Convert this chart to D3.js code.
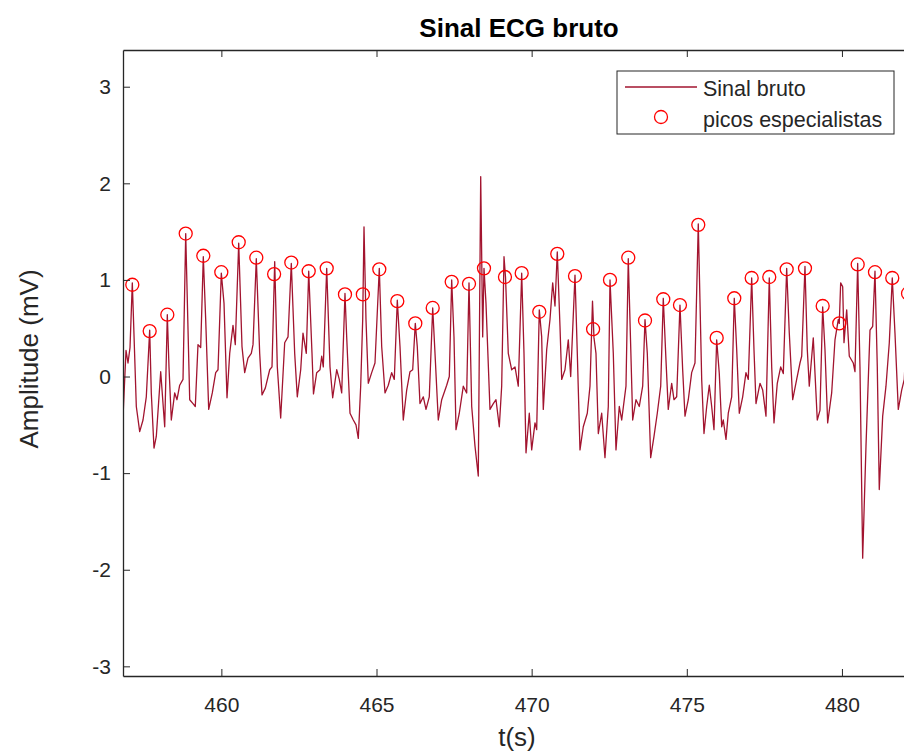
<!DOCTYPE html>
<html>
<head>
<meta charset="utf-8">
<script src="https://cdn.jsdelivr.net/npm/d3@7"></script>
<style>
  html, body { margin: 0; padding: 0; background: #fff; }
  svg { display: block; font-family: "Liberation Sans", Arial, Helvetica, sans-serif; }
</style>
</head>
<body>
<svg id="chart" width="904" height="754"></svg>
<script>
// ---- data ----
const title = "Sinal ECG bruto";
const xLabel = "t(s)";
const yLabel = "Amplitude (mV)";
const xDomain = [456.83, 482.29];
const yDomain = [-3.1, 3.38];
const xTicks = [460, 465, 470, 475, 480];
const yTicks = [-3, -2, -1, 0, 1, 2, 3];
const legendLabels = ["Sinal bruto", "picos especialistas"];

const signalT = [
  456.830, 456.927, 456.991, 457.056, 457.130, 457.259, 457.368, 457.475, 457.581, 457.690,
  457.742, 457.829, 457.903, 458.045, 458.174, 458.258, 458.312, 458.387, 458.496, 458.570,
  458.657, 458.764, 458.851, 458.980, 459.086, 459.160, 459.247, 459.334, 459.418, 459.495,
  459.592, 459.708, 459.817, 459.892, 459.998, 460.085, 460.182, 460.269, 460.375, 460.449,
  460.559, 460.665, 460.752, 460.858, 460.965, 461.020, 461.126, 461.235, 461.310, 461.416,
  461.558, 461.632, 461.719, 461.803, 461.912, 462.041, 462.148, 462.254, 462.363, 462.447,
  462.557, 462.631, 462.737, 462.815, 462.921, 462.969, 463.072, 463.179, 463.234, 463.285,
  463.395, 463.501, 463.588, 463.717, 463.801, 463.878, 463.984, 464.039, 464.146, 464.252,
  464.339, 464.413, 464.490, 464.555, 464.597, 464.661, 464.735, 464.845, 464.951, 465.090,
  465.167, 465.274, 465.380, 465.489, 465.573, 465.670, 465.757, 465.863, 465.973, 466.079,
  466.166, 466.250, 466.314, 466.401, 466.508, 466.595, 466.701, 466.811, 466.885, 466.991,
  467.101, 467.262, 467.346, 467.423, 467.497, 467.562, 467.668, 467.797, 467.906, 467.981,
  468.068, 468.174, 468.280, 468.358, 468.422, 468.464, 468.528, 468.657, 468.764, 468.851,
  468.957, 469.034, 469.109, 469.157, 469.247, 469.357, 469.463, 469.569, 469.679, 469.753,
  469.818, 469.924, 470.001, 470.108, 470.162, 470.246, 470.323, 470.375, 470.485, 470.591,
  470.678, 470.752, 470.826, 470.913, 470.968, 471.074, 471.181, 471.258, 471.397, 471.471,
  471.558, 471.664, 471.793, 471.880, 471.961, 472.009, 472.073, 472.148, 472.257, 472.363,
  472.470, 472.525, 472.631, 472.718, 472.824, 472.902, 473.040, 473.114, 473.192, 473.256,
  473.363, 473.469, 473.578, 473.653, 473.727, 473.836, 473.943, 474.049, 474.159, 474.242,
  474.329, 474.403, 474.513, 474.587, 474.674, 474.780, 474.867, 474.942, 475.048, 475.157,
  475.264, 475.370, 475.480, 475.554, 475.641, 475.725, 475.802, 475.876, 475.963, 476.047,
  476.124, 476.176, 476.263, 476.337, 476.447, 476.530, 476.608, 476.692, 476.801, 476.907,
  476.982, 477.091, 477.165, 477.230, 477.359, 477.446, 477.552, 477.658, 477.736, 477.810,
  477.916, 478.026, 478.110, 478.219, 478.303, 478.413, 478.541, 478.648, 478.703, 478.809,
  478.883, 478.947, 479.076, 479.205, 479.292, 479.379, 479.453, 479.540, 479.669, 479.776,
  479.882, 479.914, 479.959, 480.024, 480.066, 480.153, 480.237, 480.365, 480.420, 480.507,
  480.581, 480.668, 480.775, 480.904, 480.991, 481.065, 481.139, 481.203, 481.313, 481.419,
  481.526, 481.622, 481.709, 481.816, 481.925, 482.009, 482.130, 482.193, 482.289
];
const signalV = [
  -0.42, 0.27, 0.14, 0.30, 0.97, -0.31, -0.57, -0.45, -0.21, 0.48,
  -0.17, -0.74, -0.62, 0.05, -0.52, 0.64, 0.10, -0.45, -0.17, -0.24,
  -0.09, -0.03, 1.48, -0.24, -0.28, -0.31, 0.33, 0.30, 1.24, 0.59,
  -0.34, -0.17, 0.04, 0.07, 1.07, 0.76, -0.22, 0.24, 0.53, 0.33,
  1.38, 0.31, 0.04, 0.19, 0.24, 0.33, 1.22, 0.24, -0.19, -0.12,
  0.07, 0.10, 1.19, 0.10, -0.43, 0.35, 0.41, 1.17, 0.24, -0.21,
  0.07, 0.45, 0.24, 1.09, 0.24, -0.18, 0.04, 0.07, 0.21, 0.10,
  1.12, 0.10, -0.22, 0.07, -0.03, -0.17, 0.86, 0.41, -0.38, -0.45,
  -0.50, -0.64, -0.10, 0.59, 1.55, 0.59, -0.07, 0.04, 0.14, 1.12,
  0.31, -0.17, -0.09, 0.04, -0.03, 0.79, 0.31, -0.45, -0.14, 0.05,
  0.07, 0.55, 0.31, -0.28, -0.21, -0.34, -0.21, 0.71, 0.24, -0.45,
  -0.24, -0.09, 0.00, 1.00, 0.41, -0.55, -0.38, -0.10, -0.17, 0.97,
  -0.31, -0.72, -1.03, 2.07, 0.41, 1.12, 0.76, -0.34, -0.28, -0.24,
  -0.52, -0.10, 1.24, 1.03, 0.24, 0.07, 0.10, -0.10, 1.07, 0.24,
  -0.79, -0.38, -0.76, -0.48, -0.55, 0.69, 0.41, -0.34, 0.28, 0.59,
  0.97, 0.73, 1.29, 0.52, -0.03, 0.07, 0.38, 0.00, 1.05, 0.24,
  -0.76, -0.52, -0.38, -0.10, 0.78, 0.40, 0.24, -0.59, -0.38, -0.84,
  -0.31, 1.00, 0.24, -0.76, -0.31, -0.45, -0.10, 1.22, 0.31, -0.45,
  -0.24, -0.31, -0.10, 0.59, 0.24, -0.84, -0.62, -0.38, -0.10, 0.81,
  0.17, -0.34, -0.07, -0.24, -0.21, 0.74, 0.07, -0.41, -0.24, 0.04,
  0.14, 1.58, -0.03, -0.59, -0.31, -0.09, -0.31, -0.55, 0.38, 0.03,
  -0.52, -0.45, -0.65, -0.38, -0.21, 0.81, 0.28, -0.38, -0.21, 0.04,
  -0.03, 1.02, 0.28, -0.28, -0.07, -0.14, -0.41, 1.02, 0.10, -0.48,
  -0.07, 0.10, 0.03, 1.12, 0.45, -0.24, -0.03, 0.14, 0.21, 1.14,
  0.28, -0.10, 0.40, -0.45, -0.35, 0.72, 0.28, -0.48, -0.17, 0.38,
  0.59, 0.55, 0.97, 0.93, 0.35, 0.69, 0.21, 0.14, 0.05, 1.17,
  0.10, -1.88, -0.72, 0.48, 0.52, 1.09, 0.10, -1.17, -0.41, -0.10,
  0.35, 1.02, 0.45, -0.34, -0.14, -0.03, 0.86, 0.00, -0.30
];

const peakT = [
  457.130, 457.690, 458.258, 458.851, 459.418, 459.998, 460.559, 461.126, 461.700, 462.254,
  462.815, 463.395, 463.984, 464.560, 465.090, 465.670, 466.250, 466.811, 467.423, 467.981,
  468.464, 469.140, 469.679, 470.246, 470.826, 471.397, 471.980, 472.525, 473.114, 473.653,
  474.242, 474.780, 475.370, 475.963, 476.530, 477.091, 477.658, 478.219, 478.809, 479.379,
  479.914, 480.507, 481.065, 481.622, 482.130
];
const peakV = [
  0.95, 0.47, 0.64, 1.48, 1.25, 1.08, 1.39, 1.23, 1.06, 1.18,
  1.09, 1.12, 0.85, 0.85, 1.11, 0.78, 0.55, 0.71, 0.98, 0.96,
  1.12, 1.03, 1.07, 0.67, 1.27, 1.04, 0.49, 1.00, 1.23, 0.58,
  0.80, 0.74, 1.57, 0.40, 0.81, 1.02, 1.03, 1.11, 1.12, 0.73,
  0.55, 1.16, 1.08, 1.02, 0.86
];

// ---- layout ----
const W = 904, H = 754;
const m = { left: 123, top: 50, right: 913, bottom: 676 };
const axisColor = "#262626";
const lineColor = "#A2142F";
const peakColor = "#FF0000";
const fontFamily = '"Liberation Sans", Arial, Helvetica, sans-serif';

const svg = d3.select("#chart");
const x = d3.scaleLinear().domain(xDomain).range([m.left, m.right]);
const y = d3.scaleLinear().domain(yDomain).range([m.bottom, m.top]);

svg.append("rect").attr("width", W).attr("height", H).attr("fill", "#fff");

svg.append("defs").append("clipPath").attr("id", "clip")
  .append("rect").attr("x", m.left).attr("y", m.top)
  .attr("width", m.right - m.left).attr("height", m.bottom - m.top);

// signal line
const signal = signalT.map((t, i) => [t, signalV[i]]);
svg.append("path")
  .datum(signal)
  .attr("clip-path", "url(#clip)")
  .attr("fill", "none")
  .attr("stroke", lineColor)
  .attr("stroke-width", 1.3)
  .attr("stroke-linejoin", "round")
  .attr("d", d3.line().x(d => x(d[0])).y(d => y(d[1])));

// peaks
svg.append("g").selectAll("circle")
  .data(peakT.map((t, i) => [t, peakV[i]]))
  .join("circle")
  .attr("cx", d => x(d[0]))
  .attr("cy", d => y(d[1]))
  .attr("r", 6.5)
  .attr("fill", "none")
  .attr("stroke", peakColor)
  .attr("stroke-width", 1.3);

// axes (MATLAB style: inward ticks, box)
const tickLen = 7;
const fontTick = 21;
const fmt = d => String(d);

const xAxisB = d3.axisBottom(x).tickValues(xTicks).tickFormat(fmt).tickSizeInner(-tickLen).tickSizeOuter(0).tickPadding(21);
const gxB = svg.append("g").attr("transform", `translate(0,${m.bottom})`).call(xAxisB);
const xAxisT = d3.axisTop(x).tickValues(xTicks).tickSizeInner(-tickLen).tickSizeOuter(0).tickFormat("");
const gxT = svg.append("g").attr("transform", `translate(0,${m.top})`).call(xAxisT);
const yAxisL = d3.axisLeft(y).tickValues(yTicks).tickFormat(fmt).tickSizeInner(-tickLen).tickSizeOuter(0).tickPadding(12);
const gyL = svg.append("g").attr("transform", `translate(${m.left},0)`).call(yAxisL);
const yAxisR = d3.axisRight(y).tickValues(yTicks).tickSizeInner(-tickLen).tickSizeOuter(0).tickFormat("");
const gyR = svg.append("g").attr("transform", `translate(${m.right},0)`).call(yAxisR);

[gxB, gxT, gyL, gyR].forEach(g => {
  g.select(".domain").attr("stroke", axisColor).attr("stroke-width", 1.3);
  g.selectAll(".tick line").attr("stroke", axisColor).attr("stroke-width", 1);
  g.selectAll(".tick text").attr("fill", axisColor)
    .style("font-size", fontTick + "px")
    .style("font-family", fontFamily);
});

// titles
svg.append("text")
  .attr("x", 519).attr("y", 37)
  .attr("text-anchor", "middle")
  .attr("font-weight", "bold").attr("font-size", 26)
  .attr("fill", "#000")
  .text(title);

svg.append("text")
  .attr("x", 517).attr("y", 746)
  .attr("text-anchor", "middle")
  .attr("font-size", 26).attr("fill", axisColor)
  .text(xLabel);

svg.append("text")
  .attr("transform", `translate(38,359) rotate(-90)`)
  .attr("text-anchor", "middle")
  .attr("font-size", 26).attr("fill", axisColor)
  .text(yLabel);

// legend
const lg = svg.append("g").attr("transform", "translate(617,71)");
lg.append("rect").attr("width", 277).attr("height", 63)
  .attr("fill", "#fff").attr("stroke", axisColor).attr("stroke-width", 1);
lg.append("line").attr("x1", 8).attr("x2", 80).attr("y1", 16).attr("y2", 16)
  .attr("stroke", lineColor).attr("stroke-width", 1.3);
lg.append("circle").attr("cx", 44).attr("cy", 46).attr("r", 6.5)
  .attr("fill", "none").attr("stroke", peakColor).attr("stroke-width", 1.3);
lg.selectAll("text.lab").data(legendLabels).join("text")
  .attr("class", "lab")
  .attr("x", 86).attr("y", (d, i) => 25 + i * 31)
  .attr("font-size", 21.5).attr("fill", axisColor)
  .text(d => d);
</script>
</body>
</html>
